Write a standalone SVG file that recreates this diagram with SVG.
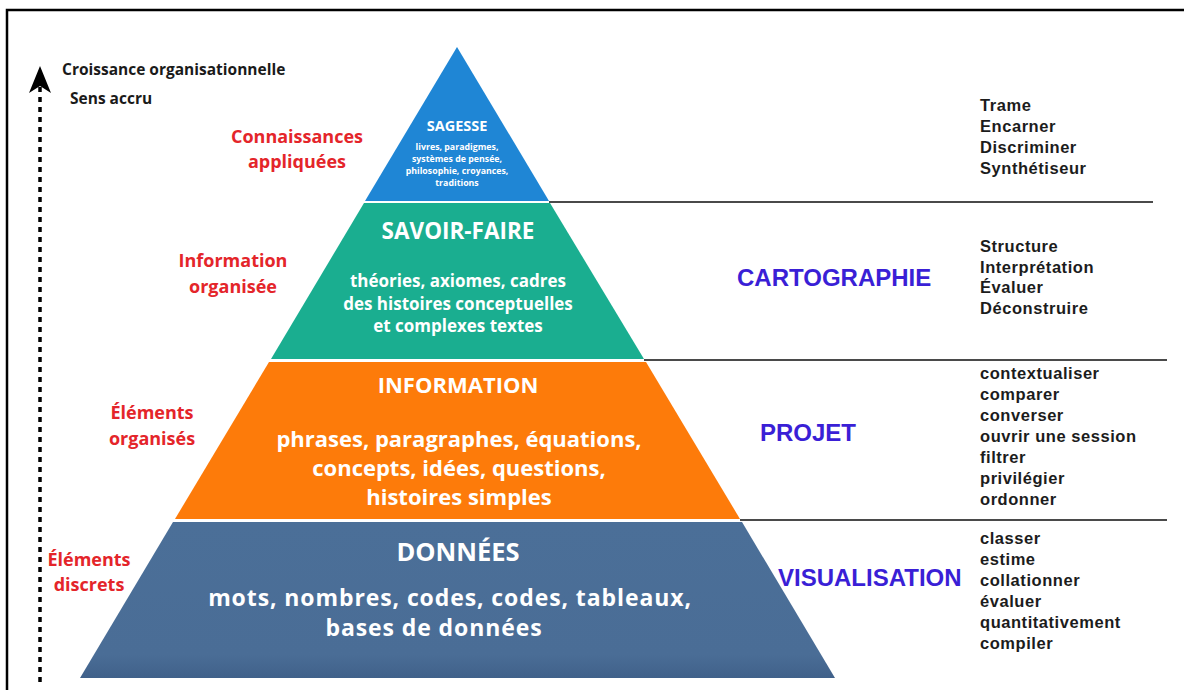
<svg xmlns="http://www.w3.org/2000/svg" width="1184" height="690" viewBox="0 0 1184 690">
<defs>
<style>
.frame{fill:none;stroke:#000;stroke-width:2.5}
.sep{stroke:#4a4a4a;stroke-width:2;fill:none}
.axis{stroke:#000;stroke-width:3.5;stroke-dasharray:5 5;fill:none}
.pt{font-family:"Open Sans","Liberation Sans",sans-serif;font-weight:bold;fill:#fff;text-anchor:middle}
.red{font-family:"Open Sans","Liberation Sans",sans-serif;font-weight:bold;fill:#e4252a;text-anchor:middle;font-size:18px}
.blk{font-family:"Open Sans","Liberation Sans",sans-serif;font-weight:bold;fill:#1a1a1a;font-size:15.5px}
.ttl{font-family:"Liberation Sans",Arial,sans-serif;font-weight:bold;fill:#3a1fd6;font-size:24px}
.lst{font-family:"Liberation Sans",Arial,sans-serif;font-weight:bold;fill:#1c1c1c;font-size:16.5px;letter-spacing:0.55px}
</style>
<marker id="arrowhead" markerUnits="userSpaceOnUse" markerWidth="28" markerHeight="24" refX="7" refY="11" orient="auto">
<path d="M0,0 L27,11 L0,22 L7,11 Z" fill="#000"/>
</marker>
<linearGradient id="baseGrad" x1="0" y1="0" x2="0" y2="1">
<stop offset="0" stop-color="#4b6f98"/>
<stop offset="0.85" stop-color="#4a6d96"/>
<stop offset="1" stop-color="#40618a"/>
</linearGradient>
</defs>
<rect width="1184" height="690" fill="#fff"/>
<path class="frame" d="M7,690 V10 H1184"/>

<g id="connectors">
<line class="axis" x1="40" y1="682" x2="40" y2="86" marker-end="url(#arrowhead)"/>
<line class="sep" x1="549" y1="202" x2="1153" y2="202"/>
<line class="sep" x1="644" y1="360" x2="1167" y2="360"/>
<line class="sep" x1="740" y1="520" x2="1167" y2="520"/>
</g>

<g id="axis-labels">
<text class="blk" x="62" y="75">Croissance organisationnelle</text>
<text class="blk" x="70" y="104">Sens accru</text>
</g>

<g id="tier-sagesse">
<polygon points="457,47 549,201 365,201" fill="#1f86d5"/>
<text class="pt" x="457" y="131" font-size="14.5">SAGESSE</text>
<text class="pt" x="457" y="150" font-size="8.8">livres, paradigmes,</text>
<text class="pt" x="457" y="162" font-size="8.8">systèmes de pensée,</text>
<text class="pt" x="457" y="174" font-size="8.8">philosophie, croyances,</text>
<text class="pt" x="457" y="186" font-size="8.8">traditions</text>
</g>

<g id="tier-savoir-faire">
<polygon points="364,203 550,203 644,359 271,359" fill="#1aae90"/>
<text class="pt" x="458" y="239" font-size="22.5">SAVOIR-FAIRE</text>
<text class="pt" x="458" y="287" font-size="17">théories, axiomes, cadres</text>
<text class="pt" x="458" y="310" font-size="17">des histoires conceptuelles</text>
<text class="pt" x="458" y="332" font-size="17">et complexes textes</text>
</g>

<g id="tier-information">
<polygon points="269,362 646,362 740,519 175,519" fill="#fd7b0a"/>
<text class="pt" x="458" y="393" font-size="22">INFORMATION</text>
<text class="pt" x="459" y="447" font-size="22">phrases, paragraphes, équations,</text>
<text class="pt" x="459" y="476" font-size="22">concepts, idées, questions,</text>
<text class="pt" x="459" y="505" font-size="22">histoires simples</text>
</g>

<g id="tier-donnees">
<polygon points="173,522 742,522 835,678 80,678" fill="url(#baseGrad)"/>
<text class="pt" x="458" y="561" font-size="25.5">DONNÉES</text>
<text class="pt" x="450" y="606" font-size="23" letter-spacing="0.9">mots, nombres, codes, codes, tableaux,</text>
<text class="pt" x="434" y="636" font-size="23" letter-spacing="0.9">bases de données</text>
</g>

<g id="label-connaissances">
<text class="red" x="297" y="143">Connaissances</text>
<text class="red" x="297" y="168">appliquées</text>
</g>
<g id="label-information-organisee">
<text class="red" x="233" y="267">Information</text>
<text class="red" x="233" y="293">organisée</text>
</g>
<g id="label-elements-organises">
<text class="red" x="152" y="419">Éléments</text>
<text class="red" x="152" y="445">organisés</text>
</g>
<g id="label-elements-discrets">
<text class="red" x="89" y="566">Éléments</text>
<text class="red" x="89" y="591">discrets</text>
</g>

<g id="title-cartographie"><text class="ttl" x="737" y="286">CARTOGRAPHIE</text></g>
<g id="title-projet"><text class="ttl" x="760" y="441">PROJET</text></g>
<g id="title-visualisation"><text class="ttl" x="778" y="586">VISUALISATION</text></g>

<g id="list-sagesse">
<text class="lst" x="980" y="111">Trame</text>
<text class="lst" x="980" y="132">Encarner</text>
<text class="lst" x="980" y="153">Discriminer</text>
<text class="lst" x="980" y="174">Synthétiseur</text>
</g>
<g id="list-cartographie">
<text class="lst" x="980" y="252">Structure</text>
<text class="lst" x="980" y="273">Interprétation</text>
<text class="lst" x="980" y="293">Évaluer</text>
<text class="lst" x="980" y="314">Déconstruire</text>
</g>
<g id="list-projet">
<text class="lst" x="980" y="379">contextualiser</text>
<text class="lst" x="980" y="400">comparer</text>
<text class="lst" x="980" y="421">converser</text>
<text class="lst" x="980" y="442">ouvrir une session</text>
<text class="lst" x="980" y="463">filtrer</text>
<text class="lst" x="980" y="484">privilégier</text>
<text class="lst" x="980" y="505">ordonner</text>
</g>
<g id="list-visualisation">
<text class="lst" x="980" y="544">classer</text>
<text class="lst" x="980" y="565">estime</text>
<text class="lst" x="980" y="586">collationner</text>
<text class="lst" x="980" y="607">évaluer</text>
<text class="lst" x="980" y="628">quantitativement</text>
<text class="lst" x="980" y="649">compiler</text>
</g>
</svg>
